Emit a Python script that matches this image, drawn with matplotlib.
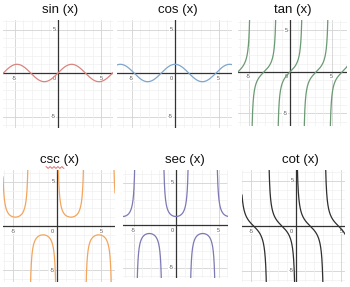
import numpy as np
import matplotlib
matplotlib.use("Agg")
import matplotlib.pyplot as plt
from matplotlib.lines import Line2D

plt.rcParams['font.family'] = ['Liberation Sans', 'DejaVu Sans']
plt.rcParams['axes.unicode_minus'] = False

W, H = 350, 287

titles = ["sin (x)", "cos (x)", "tan (x)", "csc (x)", "sec (x)", "cot (x)"]
funcs = [np.sin, np.cos, np.tan,
         lambda x: 1 / np.sin(x),
         lambda x: 1 / np.cos(x),
         lambda x: 1 / np.tan(x)]
colors = ["#d9857f", "#7ea6cc", "#6a9a73", "#f3a55c", "#7c79b4", "#2f2f2f"]
tick_vals = [-5, 5]

# panel boxes in pixels: left, top, right, bottom ; origin pixel ; px per unit ; title centre x
boxes = [(3, 20, 113, 128), (117, 20, 232, 128), (238, 20, 347, 126),
         (3, 170, 115, 282), (123, 170, 228, 278), (242, 170, 345, 282)]
origins = [(58, 73), (175, 73), (290, 72), (57, 226), (176, 225), (296, 226)]
scales = [8.7, 8.7, 8.3, 8.85, 8.5, 9.0]
title_x = [60, 178, 293, 60, 185, 300]


def main():
    fig = plt.figure(figsize=(W / 100, H / 100), dpi=100)
    for i in range(6):
        l, t, r, b = boxes[i]
        ox, oy = origins[i]
        s = scales[i]
        ax = fig.add_axes([l / W, 1 - b / H, (r - l) / W, (b - t) / H])
        x0, x1 = (l - ox) / s, (r - ox) / s
        y0, y1 = (oy - b) / s, (oy - t) / s
        ax.set_xlim(x0, x1)
        ax.set_ylim(y0, y1)
        for sp in ax.spines.values():
            sp.set_visible(False)
        ax.set_xticks([])
        ax.set_yticks([])

        # grid: minor every 1, major every 5
        for g in range(-7, 8):
            c, w = ("#d2d2d2", 0.6) if g % 5 == 0 else ("#f0f0f0", 0.5)
            if g != 0:
                ax.axvline(g, color=c, lw=w, zorder=0)
                ax.axhline(g, color=c, lw=w, zorder=0)
        ax.axhline(0, color="#333333", lw=0.9, zorder=2)
        ax.axvline(0, color="#333333", lw=0.9, zorder=2)

        for v in tick_vals:
            ax.text(v, -0.3, str(v), fontsize=4, color="#555555",
                    ha="center", va="top", zorder=3,
                    bbox=dict(facecolor="white", edgecolor="none", pad=0.2))
            ax.text(-0.3, v, str(v), fontsize=4, color="#555555",
                    ha="right", va="center", zorder=3,
                    bbox=dict(facecolor="white", edgecolor="none", pad=0.2))
        ax.text(-0.3, -0.3, "0", fontsize=4, color="#555555",
                ha="right", va="top", zorder=3)

        x = np.linspace(x0, x1, 4000)
        with np.errstate(divide="ignore", invalid="ignore"):
            y = funcs[i](x)
        y[np.abs(y) > 25] = np.nan
        ax.plot(x, y, color=colors[i], lw=0.9, zorder=4)

        fig.text(title_x[i] / W, 1 - (t - 10) / H, titles[i], fontsize=9.5,
                 ha="center", va="center", color="#111111")

    # spell-check squiggle under "csc"
    sx = np.linspace(46, 64, 40)
    sy = 167.5 + 0.8 * np.sin(sx * 1.6)
    fig.add_artist(Line2D(sx / W, 1 - sy / H, color="#e03030", lw=0.5,
                          transform=fig.transFigure))

    fig.savefig("out.png", dpi=100)


if __name__ == '__main__':
    main()
